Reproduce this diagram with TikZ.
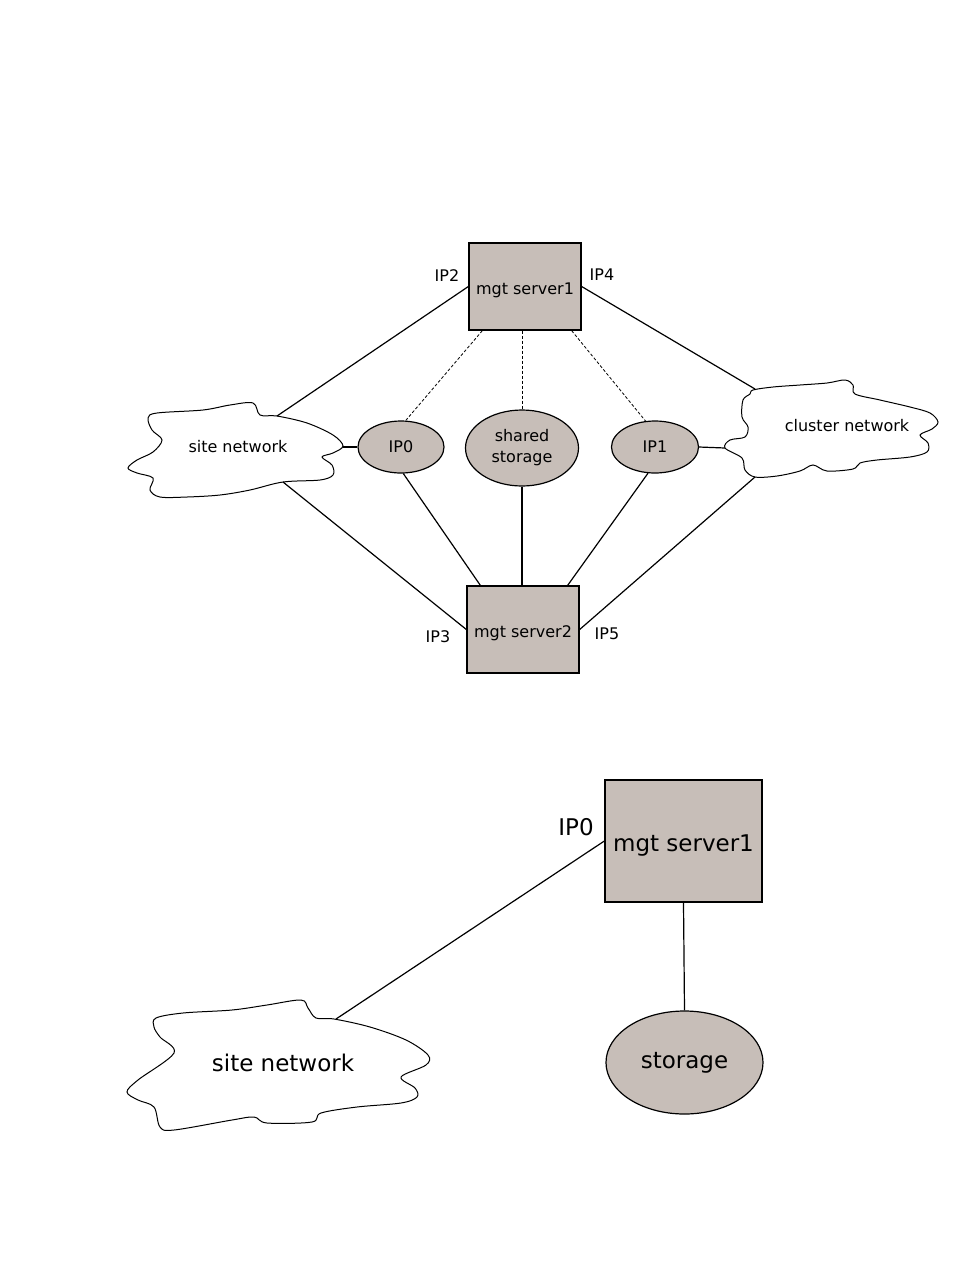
\documentclass[tikz,border=0pt]{standalone}
\usepackage{fontspec}
\setmainfont{DejaVu Sans}
\usetikzlibrary{positioning,calc,shapes.geometric}
\definecolor{boxfill}{RGB}{199,190,184}

\begin{document}
\begin{tikzpicture}[x=1pt,y=-1pt,
  srv/.style={draw,line width=1.3pt,fill=boxfill,minimum width=112pt,minimum height=87pt,inner sep=0pt,text height=16pt,text depth=0pt,font=\fontsize{16}{21}\selectfont},
  ipn/.style={draw,ellipse,line width=1.2pt,fill=boxfill,minimum width=86pt,minimum height=52pt,inner sep=0pt,align=center,font=\fontsize{16}{21}\selectfont},
  lbl/.style={font=\fontsize{16}{21}\selectfont},
  big/.style={font=\fontsize{23}{28}\selectfont},
  cloudline/.style={draw,line width=1pt,fill=white},
  link/.style={line width=1.2pt},
  dlink/.style={line width=0.8pt,dash pattern=on 3pt off 2pt}]
  \useasboundingbox (0,0) rectangle (954,1270);
  % clouds
  \draw[cloudline] plot[smooth cycle,tension=0.55] coordinates {(148,418) (157,413) (203,410) (230,405) (253,403) (260,415) (277,416) (307,423) (333,435) (343,446) (333,453) (322,457) (332,465) (333,475) (320,480) (283,482) (250,490) (220,495) (187,497) (160,497) (150,490) (153,478) (137,473) (128,468) (137,460) (153,452) (162,440) (152,430)};
  \draw[cloudline] plot[smooth cycle,tension=0.55] coordinates {(753,390) (773,387) (800,385) (827,383) (845,380) (853,385) (855,394) (880,400) (910,407) (930,413) (938,422) (932,429) (920,435) (928,443) (927,452) (910,457) (877,460) (860,463) (853,469) (827,471) (813,465) (800,471) (777,476) (755,477) (745,470) (742,458) (725,448) (730,440) (745,437) (748,427) (742,417) (743,400) (750,394)};
  \draw[cloudline] plot[smooth cycle,tension=0.55] coordinates {(156,1018) (183,1013) (232,1010) (267,1005) (301,1000) (308,1008) (316,1018) (334,1019) (370,1027) (406,1040) (428,1055) (426,1065) (401,1077) (415,1088) (417,1097) (401,1103) (357,1107) (321,1113) (312,1122) (267,1123) (254,1117) (232,1120) (174,1130) (160,1127) (154,1107) (138,1100) (127,1092) (138,1080) (174,1053) (160,1037) (154,1027)};
  \coordinate (site-ne) at (277,416);\coordinate (site-e) at (343,447);\coordinate (site-se) at (283,482);
  \coordinate (clu-nw) at (755,389);\coordinate (clu-w) at (725,448);\coordinate (clu-sw) at (755,477);
  \coordinate (siteb-ne) at (336,1019);
  % top: two servers
  \node[lbl](site) at (238,447){site network};
  \node[lbl](clu) at (847,426){cluster network};
  \node[srv](s1) at (525,286.5){mgt server1};
  \node[srv](s2) at (523,629.5){mgt server2};
  \node[ipn](ip0) at (401,447){IP0};
  \node[ipn,minimum width=113pt,minimum height=76pt](st) at (522,448){shared\\storage};
  \node[ipn,minimum width=87pt](ip1) at (655,447){IP1};
  \node[lbl](l2) at (447,276){IP2};
  \node[lbl](l4) at (602,275){IP4};
  \node[lbl](l3) at (438,637){IP3};
  \node[lbl](l5) at (607,634){IP5};
  \draw[link](s1.west)--(site-ne);\draw[link](s1.east)--(clu-nw);
  \draw[dlink]([xshift=14pt]s1.south west)--(ip0.80);\draw[dlink](s1.south -| st.north)--(st.north);\draw[dlink]([xshift=-10pt]s1.south east)--(ip1.110);
  \draw[link](site-e)--(ip0.west);\draw[link](ip1.east)--(clu-w);
  \draw[link](site-se)--(s2.west);\draw[link](ip0.-85)--([xshift=14pt]s2.north west);\draw[link](st.south)--(st.south |- s2.north);
  \draw[link](ip1.-105)--([xshift=-12pt]s2.north east);\draw[link](clu-sw)--(s2.east);
  % bottom: one server
  \node[big](siteb) at (283,1063){site network};
  \node[srv,big,text height=20pt,minimum width=157pt,minimum height=122pt](sb) at (683.5,841){mgt server1};
  \node[ipn,big,minimum width=157pt,minimum height=103pt](stb) at (684.5,1062.5){storage};
  \node[big](l0) at (576,827){IP0};
  \draw[link](sb.west)--(siteb-ne);\draw[link](sb.south)--(stb.north);
\end{tikzpicture}
\end{document}
